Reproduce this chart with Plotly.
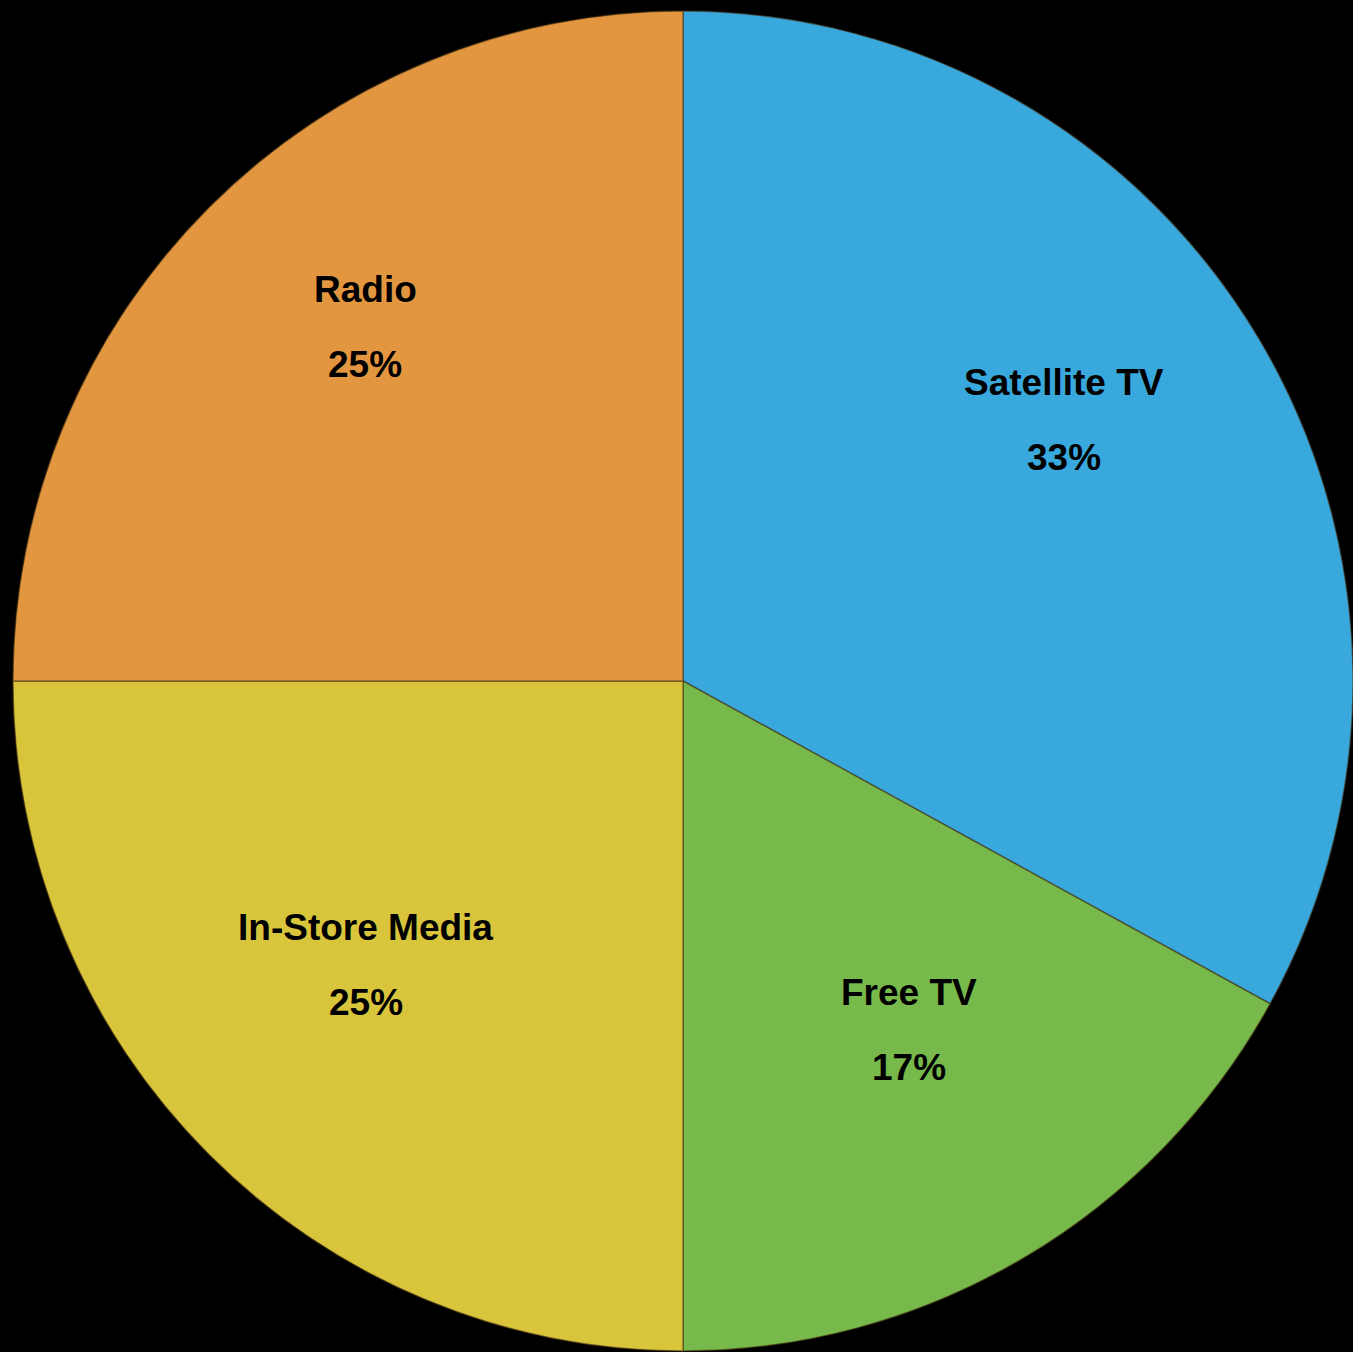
import math
import plotly.graph_objects as go

# Media mix shares (percent)
channels = ["Satellite TV", "Free TV", "In-Store Media", "Radio"]
shares = [33, 17, 25, 25]
slice_colors = ["#38A8DD", "#77B94B", "#D9C53B", "#E2963F"]

# label placement: fraction of radius and angular nudge (deg) per slice
label_radius = [0.69, 0.62, 0.635, 0.71]
label_nudge = [-3.8, -2.3, 3.2, 3.1]

W, H = 1353, 1352
dom_x = [13 / W, 1.0]
dom_y = [0.0, 1 - 10 / H]

fig = go.Figure(
    go.Pie(
        labels=channels,
        values=shares,
        sort=False,
        direction="clockwise",
        rotation=0,
        marker=dict(colors=slice_colors, line=dict(color="rgba(70,50,20,0.55)", width=1.5)),
        textinfo="none",
        hoverinfo="label+percent",
        showlegend=False,
        domain=dict(x=dom_x, y=dom_y),
    )
)

# pie geometry in pixels (plotly centres the pie in its domain)
px0, px1 = dom_x[0] * W, dom_x[1] * W
py0, py1 = (1 - dom_y[1]) * H, (1 - dom_y[0]) * H
cx, cy = (px0 + px1) / 2, (py0 + py1) / 2
radius = min(px1 - px0, py1 - py0) / 2

font = dict(family="Liberation Sans, Arial, sans-serif", size=37, color="#000000")
line_gap = 75
total = sum(shares)
start = 0.0
for name, val, rf, nudge in zip(channels, shares, label_radius, label_nudge):
    span = 360.0 * val / total
    theta = math.radians(start + span / 2 + nudge)
    start += span
    x = cx + rf * radius * math.sin(theta)
    y = cy - rf * radius * math.cos(theta)
    for text, dy in ((f"<b>{name}</b>", -line_gap / 2), (f"<b>{val}%</b>", line_gap / 2)):
        fig.add_annotation(
            x=x / W, y=1 - (y + dy) / H, xref="paper", yref="paper",
            text=text, showarrow=False, xanchor="center", yanchor="middle", font=font,
        )

fig.update_layout(
    width=W,
    height=H,
    margin=dict(l=0, r=0, t=0, b=0),
    paper_bgcolor="#000000",
    plot_bgcolor="#000000",
)

fig.write_html("out.html")
